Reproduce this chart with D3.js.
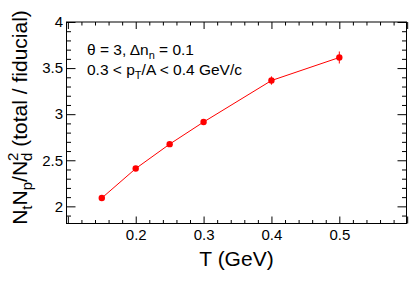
<!DOCTYPE html>
<html>
<head>
<meta charset="utf-8">
<script src="https://cdn.jsdelivr.net/npm/d3@7"></script>
<style>
  html, body { margin: 0; padding: 0; background: #fff; }
  svg { display: block; font-family: "Liberation Sans", Arial, Helvetica, sans-serif; }
</style>
</head>
<body>
<svg id="chart" width="415" height="281"></svg>
<script>
// ---- data ----
const temperatures = [0.15, 0.2, 0.25, 0.3, 0.4, 0.5];
const ratios       = [2.09, 2.41, 2.675, 2.915, 3.365, 3.615];
const errors       = [0.01, 0.01, 0.01, 0.01, 0.045, 0.065];
const xTickLabels  = [0.2, 0.3, 0.4, 0.5];
const yTickLabels  = [2, 2.5, 3, 3.5, 4];

// ---- layout ----
const W = 415, H = 281;
const L = 66.5, R = 406.5, T = 22, B = 223.5;
const svg = d3.select("#chart");

const x = d3.scaleLinear().domain([0.098, 0.599]).range([L, R]);
const y = d3.scaleLinear().domain([1.814, 4]).range([B, T]);

const xMajor = d3.range(0.1, 0.61, 0.1).map(v => +v.toFixed(2));
const xMinor = d3.range(0.1, 0.601, 0.02).map(v => +v.toFixed(2)).filter(v => !xMajor.some(m => Math.abs(m - v) < 1e-6));
const yMajor = d3.range(2, 4.01, 0.5).map(v => +v.toFixed(2));
const yMinor = d3.range(1.9, 4.001, 0.1).map(v => +v.toFixed(2)).filter(v => !yMajor.some(m => Math.abs(m - v) < 1e-6));

function styleAxis(g) {
  g.select(".domain").remove();
  g.selectAll(".tick line").attr("stroke", "#000").attr("stroke-width", 1);
  g.selectAll(".tick text").attr("fill", "#000").attr("font-size", 15);
}

// bottom
svg.append("g").attr("transform", `translate(0,${B})`)
  .call(d3.axisBottom(x).tickValues(xMajor).tickSizeInner(-7).tickSizeOuter(0).tickPadding(6)
    .tickFormat(d => xTickLabels.some(v => Math.abs(v - d) < 1e-6) ? d3.format(".1f")(d) : ""))
  .call(styleAxis);
svg.append("g").attr("transform", `translate(0,${B})`)
  .call(d3.axisBottom(x).tickValues(xMinor).tickSizeInner(-3.5).tickSizeOuter(0).tickFormat(""))
  .call(styleAxis);
// top
svg.append("g").attr("transform", `translate(0,${T})`)
  .call(d3.axisTop(x).tickValues(xMajor).tickSizeInner(-7).tickSizeOuter(0).tickFormat(""))
  .call(styleAxis);
svg.append("g").attr("transform", `translate(0,${T})`)
  .call(d3.axisTop(x).tickValues(xMinor).tickSizeInner(-3.5).tickSizeOuter(0).tickFormat(""))
  .call(styleAxis);
// left
svg.append("g").attr("transform", `translate(${L},0)`)
  .call(d3.axisLeft(y).tickValues(yMajor).tickSizeInner(-9).tickSizeOuter(0).tickPadding(3.5)
    .tickFormat(d => yTickLabels.includes(d) ? String(d) : ""))
  .call(styleAxis);
svg.append("g").attr("transform", `translate(${L},0)`)
  .call(d3.axisLeft(y).tickValues(yMinor).tickSizeInner(-4.5).tickSizeOuter(0).tickFormat(""))
  .call(styleAxis);
// right
svg.append("g").attr("transform", `translate(${R},0)`)
  .call(d3.axisRight(y).tickValues(yMajor).tickSizeInner(-9).tickSizeOuter(0).tickFormat(""))
  .call(styleAxis);
svg.append("g").attr("transform", `translate(${R},0)`)
  .call(d3.axisRight(y).tickValues(yMinor).tickSizeInner(-4.5).tickSizeOuter(0).tickFormat(""))
  .call(styleAxis);

// frame
svg.append("rect").attr("x", L).attr("y", T).attr("width", R - L).attr("height", B - T)
  .attr("fill", "none").attr("stroke", "#000").attr("stroke-width", 1);

// data
const data = temperatures.map((t, i) => ({ t, v: ratios[i], e: errors[i] }));
svg.append("path").datum(data)
  .attr("fill", "none").attr("stroke", "#ff0000").attr("stroke-width", 1)
  .attr("d", d3.line().x(d => x(d.t)).y(d => y(d.v)));
svg.append("g").selectAll("line").data(data).join("line")
  .attr("x1", d => x(d.t)).attr("x2", d => x(d.t))
  .attr("y1", d => y(d.v - d.e)).attr("y2", d => y(d.v + d.e))
  .attr("stroke", "#ff0000").attr("stroke-width", 1);
svg.append("g").selectAll("circle").data(data).join("circle")
  .attr("cx", d => x(d.t)).attr("cy", d => y(d.v)).attr("r", 3.2)
  .attr("fill", "#ff0000");

// annotation text
const t1 = svg.append("text").attr("x", 87).attr("y", 55).attr("font-size", 15.5).attr("fill", "#000");
t1.append("tspan").text("θ = 3, Δn");
t1.append("tspan").attr("dy", 4).attr("font-size", 11).text("n");
t1.append("tspan").attr("dy", -4).text(" = 0.1");
const t2 = svg.append("text").attr("x", 87).attr("y", 75).attr("font-size", 15.5).attr("fill", "#000");
t2.append("tspan").text("0.3 < p");
t2.append("tspan").attr("dy", 4).attr("font-size", 11).text("T");
t2.append("tspan").attr("dy", -4).text("/A < 0.4 GeV/c");

// x title
svg.append("text").attr("x", (L + R) / 2).attr("y", 266).attr("text-anchor", "middle")
  .attr("font-size", 21).attr("fill", "#000").text("T (GeV)");

// y title
const yt = svg.append("text").attr("transform", "translate(26.5,117.5) rotate(-90)")
  .attr("text-anchor", "middle").attr("font-size", 21).attr("fill", "#000");
yt.append("tspan").text("N");
yt.append("tspan").attr("dy", 5).attr("font-size", 15).text("t");
yt.append("tspan").attr("dy", -5).text("N");
yt.append("tspan").attr("dy", 5).attr("font-size", 15).text("p");
yt.append("tspan").attr("dy", -5).text("/N");
yt.append("tspan").attr("dy", 5).attr("font-size", 15).text("d");
yt.append("tspan").attr("dy", -14).attr("dx", -8.3).attr("font-size", 15).text("2");
yt.append("tspan").attr("dy", 9).text(" (total / fiducial)");
</script>
</body>
</html>
